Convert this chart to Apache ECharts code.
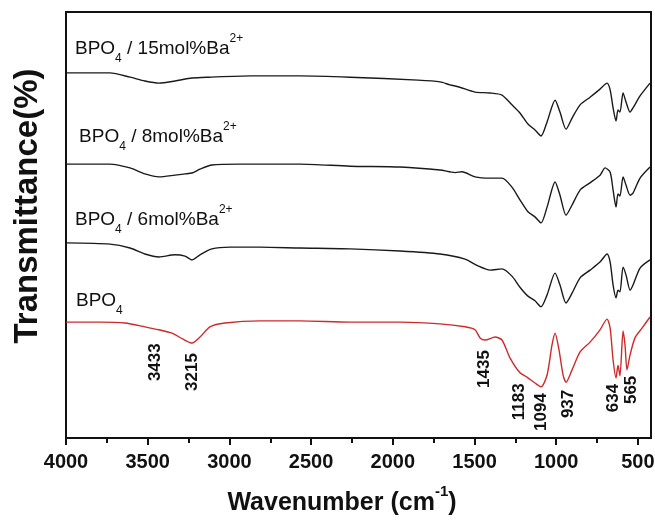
<!DOCTYPE html>
<html>
<head>
<meta charset="utf-8">
<script src="https://cdn.jsdelivr.net/npm/echarts@6/dist/echarts.min.js"></script>
<style>
  html, body { margin: 0; padding: 0; background: #fff; }
  #chart { width: 655px; height: 521px; }
</style>
</head>
<body>
<div id="chart"></div>
<script>
// [wavenumber (cm-1), transmittance (offset, a.u.)]
const ba15 = [
  [4000, 85.7], [3731, 85.7], [3608, 84.7], [3517, 83.8], [3431, 83.3], [3333, 83.8],
  [3229, 84.5], [3125, 84.7], [2868, 85.0], [2568, 85.0], [2262, 84.7], [1846, 84.0],
  [1711, 83.6], [1650, 82.9], [1595, 82.4], [1497, 81.2], [1405, 81.0], [1332, 80.5],
  [1271, 78.2], [1222, 76.3], [1173, 73.7], [1130, 72.3], [1093, 70.9], [1056, 74.2],
  [1007, 79.3], [977, 76.5], [940, 72.5], [903, 75.1], [854, 78.2], [793, 80.0],
  [732, 81.9], [689, 83.3], [670, 81.7], [652, 77.5], [634, 74.4], [622, 77.0],
  [610, 76.5], [591, 81.0], [573, 78.9], [548, 76.5], [530, 77.5], [487, 80.3], [426, 83.3]
];
const ba8 = [
  [4000, 64.3], [3731, 64.3], [3608, 63.4], [3517, 62.0], [3431, 61.3], [3333, 61.7],
  [3272, 62.0], [3229, 62.2], [3180, 63.1], [3107, 64.1], [2935, 64.3], [2568, 64.3],
  [2262, 63.8], [1956, 63.6], [1711, 62.9], [1619, 62.3], [1577, 62.5], [1497, 61.3],
  [1405, 61.0], [1332, 61.0], [1271, 58.9], [1222, 55.9], [1173, 53.1], [1130, 51.9],
  [1093, 50.5], [1056, 54.2], [1007, 60.1], [977, 57.0], [940, 52.3], [903, 54.7],
  [854, 58.2], [793, 59.9], [732, 61.7], [701, 63.4], [670, 62.4], [652, 58.2],
  [634, 54.2], [622, 57.3], [610, 56.8], [591, 61.3], [573, 59.4], [548, 57.0],
  [530, 57.5], [487, 61.0], [426, 63.6]
];
const ba6 = [
  [4000, 45.8], [3731, 45.5], [3608, 44.6], [3517, 43.2], [3431, 42.5], [3333, 43.0],
  [3272, 42.7], [3229, 41.8], [3180, 43.0], [3107, 44.4], [2996, 44.8], [2813, 44.8],
  [2568, 44.6], [2262, 44.4], [1956, 43.9], [1711, 43.2], [1558, 42.0], [1479, 40.4],
  [1405, 39.4], [1332, 39.7], [1271, 38.0], [1222, 35.4], [1173, 33.3], [1130, 32.2],
  [1093, 30.8], [1056, 33.6], [1007, 38.7], [977, 35.9], [940, 31.7], [903, 34.0],
  [854, 37.6], [793, 39.4], [732, 41.3], [689, 43.2], [670, 41.3], [652, 35.9],
  [634, 32.9], [622, 34.7], [610, 34.3], [591, 40.1], [573, 38.3], [548, 34.7],
  [530, 35.9], [487, 39.9], [426, 41.8]
];
const bpo4 = [
  [4000, 27.2], [3792, 27.2], [3639, 27.0], [3517, 26.1], [3431, 25.4], [3351, 24.6],
  [3284, 23.2], [3229, 22.3], [3180, 23.7], [3119, 26.1], [3027, 27.0], [2813, 27.5],
  [2568, 27.5], [2262, 27.2], [1956, 27.2], [1711, 26.8], [1558, 26.1], [1497, 25.4],
  [1466, 23.5], [1435, 23.0], [1374, 23.7], [1332, 23.0], [1283, 18.8], [1222, 15.3],
  [1179, 14.3], [1130, 12.9], [1093, 12.0], [1056, 14.8], [1026, 21.8], [1007, 24.6],
  [983, 20.7], [958, 14.8], [940, 13.1], [903, 16.0], [854, 20.2], [793, 22.5],
  [732, 25.4], [689, 27.9], [670, 25.8], [652, 18.3], [634, 14.1], [622, 17.1],
  [610, 14.6], [591, 25.1], [579, 21.8], [567, 16.0], [548, 19.5], [518, 23.5],
  [475, 25.8], [426, 28.4]
];

const sampleNames = ['BPO{s|4} / 15mol%Ba{p|2+}', 'BPO{s|4} / 8mol%Ba{p|2+}', 'BPO{s|4} / 6mol%Ba{p|2+}', 'BPO{s|4}'];
const sampleLabelPos = [[3945, 91.3], [3920, 70.7], [3945, 51.2], [3939, 32.2]];

const peakLabels = ['3433', '3215', '1435', '1183', '1094', '937', '634', '565'];
const peakLabelPos = [[3455, 17.8], [3229, 15.5], [1442, 16.2], [1228, 8.5], [1093, 6.1], [928, 8.0], [652, 9.4], [542, 11.3]];

const majorTicks = [4000, 3500, 3000, 2500, 2000, 1500, 1000, 500];
const minorTicks = [3750, 3250, 2750, 2250, 1750, 1250, 750];

const FONT = '"Liberation Sans", Arial, Helvetica, sans-serif';
const lineColors = ['#1a1a1a', '#1a1a1a', '#1a1a1a', '#cf2a2a'];
const seriesData = [ba15, ba8, ba6, bpo4];

const chart = echarts.init(document.getElementById('chart'), null, { renderer: 'canvas' });

const nameRich = {
  s: { fontSize: 12, fontFamily: FONT, color: '#111', verticalAlign: 'bottom', lineHeight: 12 },
  p: { fontSize: 12, fontFamily: FONT, color: '#111', verticalAlign: 'top', lineHeight: 12 }
};

const series = seriesData.map((data, i) => {
  const s = {
    type: 'line',
    data,
    xAxisIndex: 0,
    showSymbol: false,
    symbol: 'none',
    smooth: 0.25,
    lineStyle: { color: lineColors[i], width: 1.4 },
    silent: true,
    markPoint: {
      symbol: 'circle',
      symbolSize: 1,
      itemStyle: { color: 'transparent' },
      data: [{
        coord: sampleLabelPos[i],
        label: {
          show: true,
          position: 'inside',
          align: 'left',
          formatter: sampleNames[i],
          fontSize: 19,
          lineHeight: 32,
          fontFamily: FONT,
          color: '#111',
          rich: nameRich
        }
      }]
    }
  };
  if (i === 3) {
    s.markPoint.data = s.markPoint.data.concat(peakLabels.map((t, k) => ({
      coord: peakLabelPos[k],
      label: {
        show: true,
        position: 'inside',
        rotate: 90,
        formatter: t,
        fontSize: 17,
        fontWeight: 'bold',
        fontFamily: FONT,
        color: '#111'
      }
    })));
  }
  return s;
});

chart.setOption({
  animation: false,
  backgroundColor: '#fff',
  grid: {
    left: 66, right: 4, top: 12, bottom: 83,
    show: true, borderColor: '#111', borderWidth: 2,
    containLabel: false, outerBoundsMode: 'none'
  },
  xAxis: [
    {
      type: 'value',
      inverse: true,
      min: 420,
      max: 4000,
      position: 'bottom',
      axisLine: { show: false },
      axisTick: { show: true, customValues: majorTicks, length: 7, lineStyle: { color: '#111', width: 2 } },
      axisLabel: {
        customValues: majorTicks,
        formatter: v => String(v),
        margin: 14,
        fontSize: 20,
        fontWeight: 'bold',
        fontFamily: FONT,
        color: '#111'
      },
      splitLine: { show: false },
      name: 'Wavenumber (cm{p|-1})',
      nameLocation: 'middle',
      nameGap: 46,
      nameTextStyle: {
        fontSize: 25,
        lineHeight: 38,
        fontWeight: 'bold',
        fontFamily: FONT,
        color: '#111',
        padding: [0, 33, 0, 0],
        rich: {
          p: { fontSize: 15, fontWeight: 'bold', fontFamily: FONT, color: '#111', verticalAlign: 'top', lineHeight: 15 }
        }
      }
    },
    {
      type: 'value',
      inverse: true,
      min: 420,
      max: 4000,
      position: 'bottom',
      offset: 0,
      axisLine: { show: false },
      axisTick: { show: true, customValues: minorTicks, length: 5, lineStyle: { color: '#111', width: 2 } },
      axisLabel: { show: false },
      splitLine: { show: false }
    }
  ],
  yAxis: {
    type: 'value',
    min: 0,
    max: 100,
    axisLine: { show: false },
    axisTick: { show: false },
    axisLabel: { show: false },
    splitLine: { show: false },
    name: 'Transmittance(%)',
    nameLocation: 'middle',
    nameGap: 22,
    nameTextStyle: {
      fontSize: 33,
      fontWeight: 'bold',
      fontFamily: FONT,
      color: '#111',
      padding: [0, 0, 0, 38]
    }
  },
  series
});
</script>
</body>
</html>
